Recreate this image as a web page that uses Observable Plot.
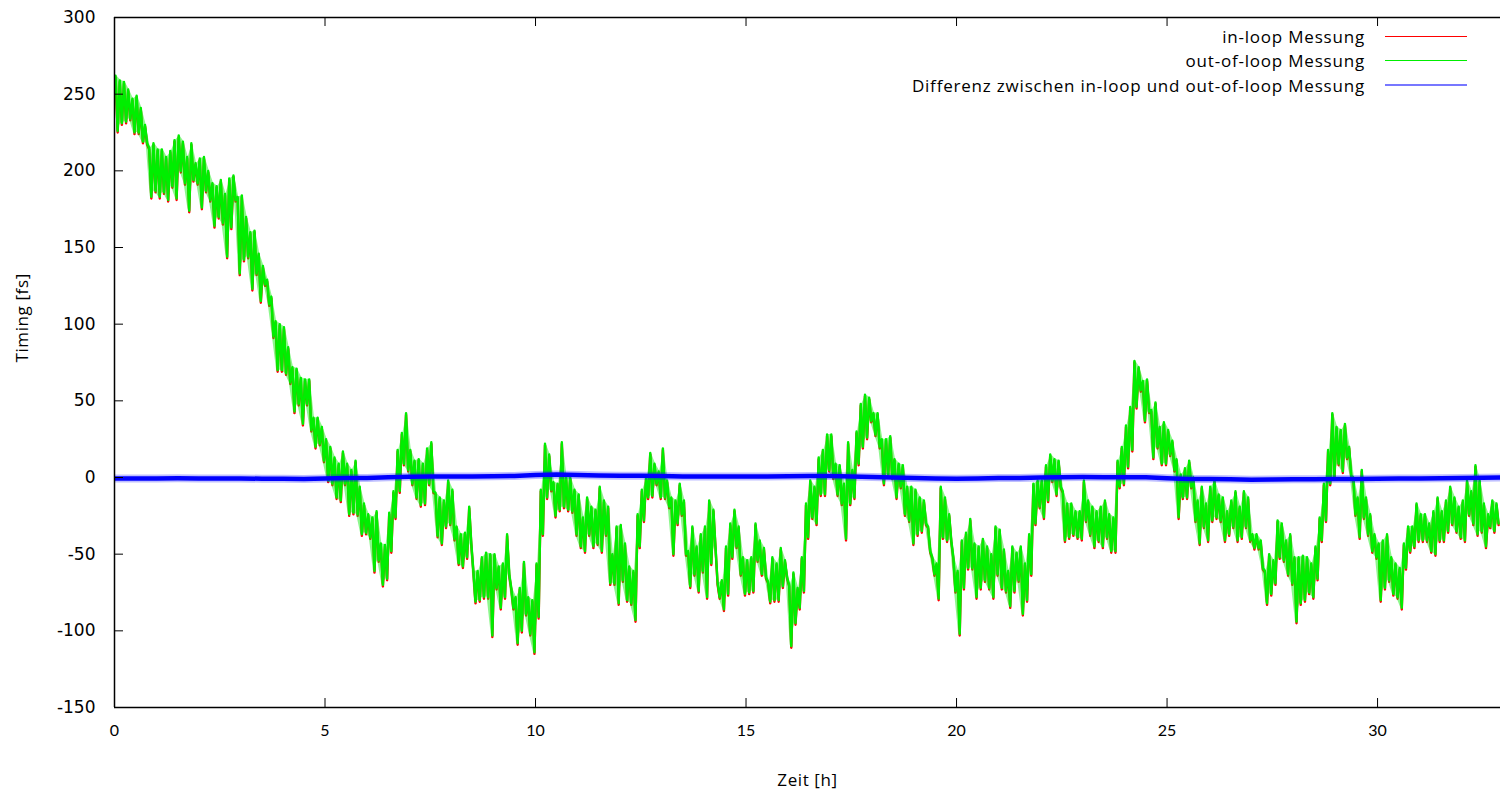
<!DOCTYPE html>
<html><head><meta charset="utf-8">
<script src="https://cdn.jsdelivr.net/npm/d3@7"></script>
<script src="https://cdn.jsdelivr.net/npm/@observablehq/plot@0.6"></script>
<style>
body{margin:0;background:#fff;}
#wrap{position:relative;width:1500px;height:803px;overflow:hidden;}
#legend{position:absolute;right:33px;top:24px;font-family:"Open Sans",Lato,sans-serif;font-size:17px;letter-spacing:0.8px;color:#000;}
#legend .row{display:flex;align-items:center;justify-content:flex-end;height:24.5px;}
#legend .sw{width:82px;margin-left:20px;}
g[aria-label="text"] text{letter-spacing:0.6px;}
</style></head><body><div id="wrap"><div id="legend"></div></div>
<script>
// Timing readings: one upper and one lower value per 0.1 h slot (fs)
const sampleStep = 0.1;
const timingHigh = [
262,259,258,253,247,249,241,230,215,218, 214,214,209,213,220,223,219,209,218,205,
208,209,200,192,190,194,185,195,197,183, 184,170,160,161,146,138,129,118,102,100,
98,85,72,71,65,64,64,39,39,33, 25,20,13,9,17,9,5,11,-6,-17,
-24,-26,-22,-43,-44,-23,-9,18,29,42, 18,11,12,9,19,23,-10,-13,-15,-2,
-8,-32,-37,-36,-19,-61,-61,-52,-49,-50, -50,-58,-56,-37,-72,-78,-72,-55,-78,-80,
-56,-8,22,15,-3,-4,23,0,0,-8, -11,-26,-13,-19,-21,-6,-15,-19,-50,-32,
-31,-43,-58,-61,-24,-8,0,16,9,4, 19,-2,-13,-15,-4,-15,-48,-32,-45,-37,
-32,-15,-21,-69,-67,-45,-30,-21,-32,-52, -54,-52,-30,-41,-46,-68,-52,-56,-46,-54,
-70,-62,-72,-52,-17,-2,-6,13,18,28, 28,9,8,-4,23,5,30,48,54,52,
42,42,25,25,27,12,9,8,-6,-6, -8,-13,-15,-32,-52,-56,-6,-13,-24,-52,
-61,-41,-36,-27,-43,-45,-40,-45,-50,-32, -34,-47,-61,-45,-49,-45,-56,-37,-4,-2,
-2,8,15,12,11,-9,-17,-17,-22,-22, -2,-15,-19,-22,-19,-15,-24,-26,11,20,
34,46,76,72,63,64,44,49,33,36, 31,24,12,2,6,11,0,-15,-6,-17,
-6,-2,-11,-13,-22,-15,-9,-19,-9,-13, -37,-37,-41,-61,-50,-54,-28,-30,-41,-37,
-52,-52,-51,-52,-56,-45,-26,-4,18,42, 33,31,35,20,0,-13,5,-13,-24,-37,
-43,-41,-37,-52,-56,-59,-43,-32,-32,-17, -24,-24,-30,-22,-13,-22,-15,-6,-13,-19,
-15,-2,-9,8,-2,-17,-24,-15,-17
];
const timingLow = [
226,231,232,234,225,225,219,218,183,187, 183,186,181,190,182,200,192,174,194,192,
176,187,181,164,170,166,144,163,181,133, 142,144,123,133,115,126,113,92,70,70,
68,62,43,48,35,48,31,20,22,11, -2,-4,-13,-15,-4,-24,-23,-24,-37,-36,
-39,-61,-54,-70,-66,-48,-26,-9,9,5, -4,-13,-18,-17,-4,-9,-38,-43,-32,-30,
-40,-56,-58,-52,-43,-81,-80,-78,-78,-103, -72,-85,-78,-63,-85,-108,-100,-89,-102,-114,
-91,-37,-13,-8,-25,-21,-19,-21,-22,-37, -45,-48,-37,-45,-43,-48,-37,-69,-69,-82,
-67,-80,-82,-93,-45,-28,-13,-12,-4,-13, -13,-19,-50,-30,-24,-50,-71,-63,-74,-61,
-78,-56,-45,-78,-86,-76,-52,-45,-63,-76, -75,-74,-54,-63,-65,-81,-80,-80,-71,-65,
-110,-95,-85,-74,-39,-26,-30,-11,-11,5, 0,-11,-17,-40,-17,-13,9,20,26,37,
28,20,-4,2,0,-13,-6,-24,-28,-43, -37,-35,-30,-48,-63,-79,-39,-41,-41,-74,
-102,-72,-59,-59,-78,-72,-67,-72,-78,-63, -72,-74,-84,-74,-67,-89,-80,-63,-30,-19,
-26,-15,-2,-11,-6,-41,-39,-37,-39,-40, -28,-37,-45,-41,-45,-39,-48,-48,-6,-4,
7,18,46,57,37,43,13,20,9,9, 15,5,-26,-13,-13,-6,-28,-43,-32,-41,
-28,-26,-28,-41,-37,-32,-41,-39,-32,-41, -46,-46,-59,-82,-76,-69,-52,-54,-63,-69,
-94,-82,-80,-75,-78,-66,-41,-28,-4,0, 9,4,13,1,-24,-39,-26,-37,-48,-52,
-80,-72,-67,-76,-78,-85,-59,-48,-45,-41, -41,-41,-48,-50,-41,-41,-35,-30,-35,-39,
-41,-24,-30,-37,-35,-45,-32,-35,-30
];
// Difference (in-loop minus out-of-loop), one reading per 0.5 h (fs)
const diffStep = 0.5;
const diffValues = [
-0.7,-0.6,-0.7,-0.5,-0.6,-0.7,-0.6,-0.8,-0.8,-0.9,
-0.6,-0.4,-0.3,0.2,0.5,0.6,0.6,0.7,0.8,1.0,
1.6,1.9,1.6,1.3,1.2,1.1,0.9,0.7,0.6,0.6,
0.7,0.7,0.8,0.9,0.9,0.7,0.3,0,-0.4,-0.7,
-0.8,-0.6,-0.4,-0.3,0,0.2,0.3,0.2,0.2,0.1,
-0.5,-0.9,-1.0,-1.1,-1.4,-1.3,-1.2,-1.1,-1.0,-0.9,
-0.8,-0.7,-0.6,-0.5,-0.3,-0.1,0.1
];
const xTicks = [0,5,10,15,20,25,30];
const yTicks = [-150,-100,-50,0,50,100,150,200,250,300];
const seriesNames = ["in-loop Messung","out-of-loop Messung","Differenz zwischen in-loop und out-of-loop Messung"];
const seriesColors = ["#ff0000","#00ee00","#0000ff"];

const zig = [];
const band = [];
timingHigh.forEach((hi, i) => {
  const lo = timingLow[i];
  zig.push({t: i*sampleStep + sampleStep*0.25, v: hi});
  zig.push({t: i*sampleStep + sampleStep*0.75, v: lo});
  band.push({t: i*sampleStep + sampleStep*0.5, hi, lo});
});
const diff = diffValues.map((v, i) => ({t: i*diffStep, v}));

const W = 1500, H = 803, mL = 114, mR = 0, mT = 17, mB = 96;
const plotW = W - mL - mR, plotH = H - mT - mB, tk = 9;
const lab = "'Open Sans', Lato, sans-serif";

const chart = Plot.plot({
  width: W, height: H,
  marginLeft: mL, marginRight: mR, marginTop: mT, marginBottom: mB,
  style: {background: "#fff", color: "#000", fontFamily: lab, fontSize: "16px"},
  x: {domain: [0, 32.92], axis: null},
  y: {domain: [-150, 300], axis: null},
  marks: [
    Plot.line(zig, {x: "t", y: "v", stroke: seriesColors[0], strokeWidth: 2.4, dy: 1.6, clip: true}),
    Plot.areaY(band, {x: "t", y1: "lo", y2: "hi", fill: seriesColors[1], fillOpacity: 0.45, clip: true}),
    Plot.line(zig, {x: "t", y: "v", stroke: seriesColors[1], strokeWidth: 2.4, clip: true}),
    Plot.line(diff, {x: "t", y: "v", stroke: seriesColors[2], strokeWidth: 8, strokeOpacity: 0.25, clip: true}),
    Plot.line(diff, {x: "t", y: "v", stroke: seriesColors[2], strokeWidth: 4.5, clip: true}),
    Plot.tickY(yTicks, {y: d => d, stroke: "#000", strokeWidth: 1, insetRight: plotW - tk}),
    Plot.tickX(xTicks, {x: d => d, stroke: "#000", strokeWidth: 1, insetTop: plotH - tk}),
    Plot.tickX(xTicks, {x: d => d, stroke: "#000", strokeWidth: 1, insetBottom: plotH - tk}),
    Plot.ruleX([0], {stroke: "#000", strokeWidth: 1.5}),
    Plot.ruleY([-150, 300], {stroke: "#000", strokeWidth: 1.5}),
    Plot.axisY(yTicks, {tickSize: 0, tickPadding: 19, label: null, tickFormat: d => String(d), fontFamily: "DejaVu Sans", fontSize: 17}),
    Plot.axisX(xTicks, {tickSize: 0, tickPadding: 17, label: null, tickFormat: d => String(d), fontFamily: "Lato", fontSize: 16}),
    Plot.text(["Zeit [h]"], {frameAnchor: "bottom", dy: 78, fontSize: 17, fontFamily: lab}),
    Plot.text(["Timing [fs]"], {frameAnchor: "left", dx: -92, rotate: -90, fontSize: 17, fontFamily: lab})
  ]
});
const wrap = document.getElementById("wrap");
wrap.insertBefore(chart, wrap.firstChild);

const legend = document.getElementById("legend");
seriesNames.forEach((name, i) => {
  const row = document.createElement("div");
  row.className = "row";
  const s = document.createElement("span");
  s.textContent = name;
  const sw = document.createElement("div");
  sw.className = "sw";
  sw.style.borderTop = (i === 2 ? "2px solid #7777ff" : "1.2px solid " + seriesColors[i]);
  row.appendChild(s); row.appendChild(sw);
  legend.appendChild(row);
});
</script></body></html>
